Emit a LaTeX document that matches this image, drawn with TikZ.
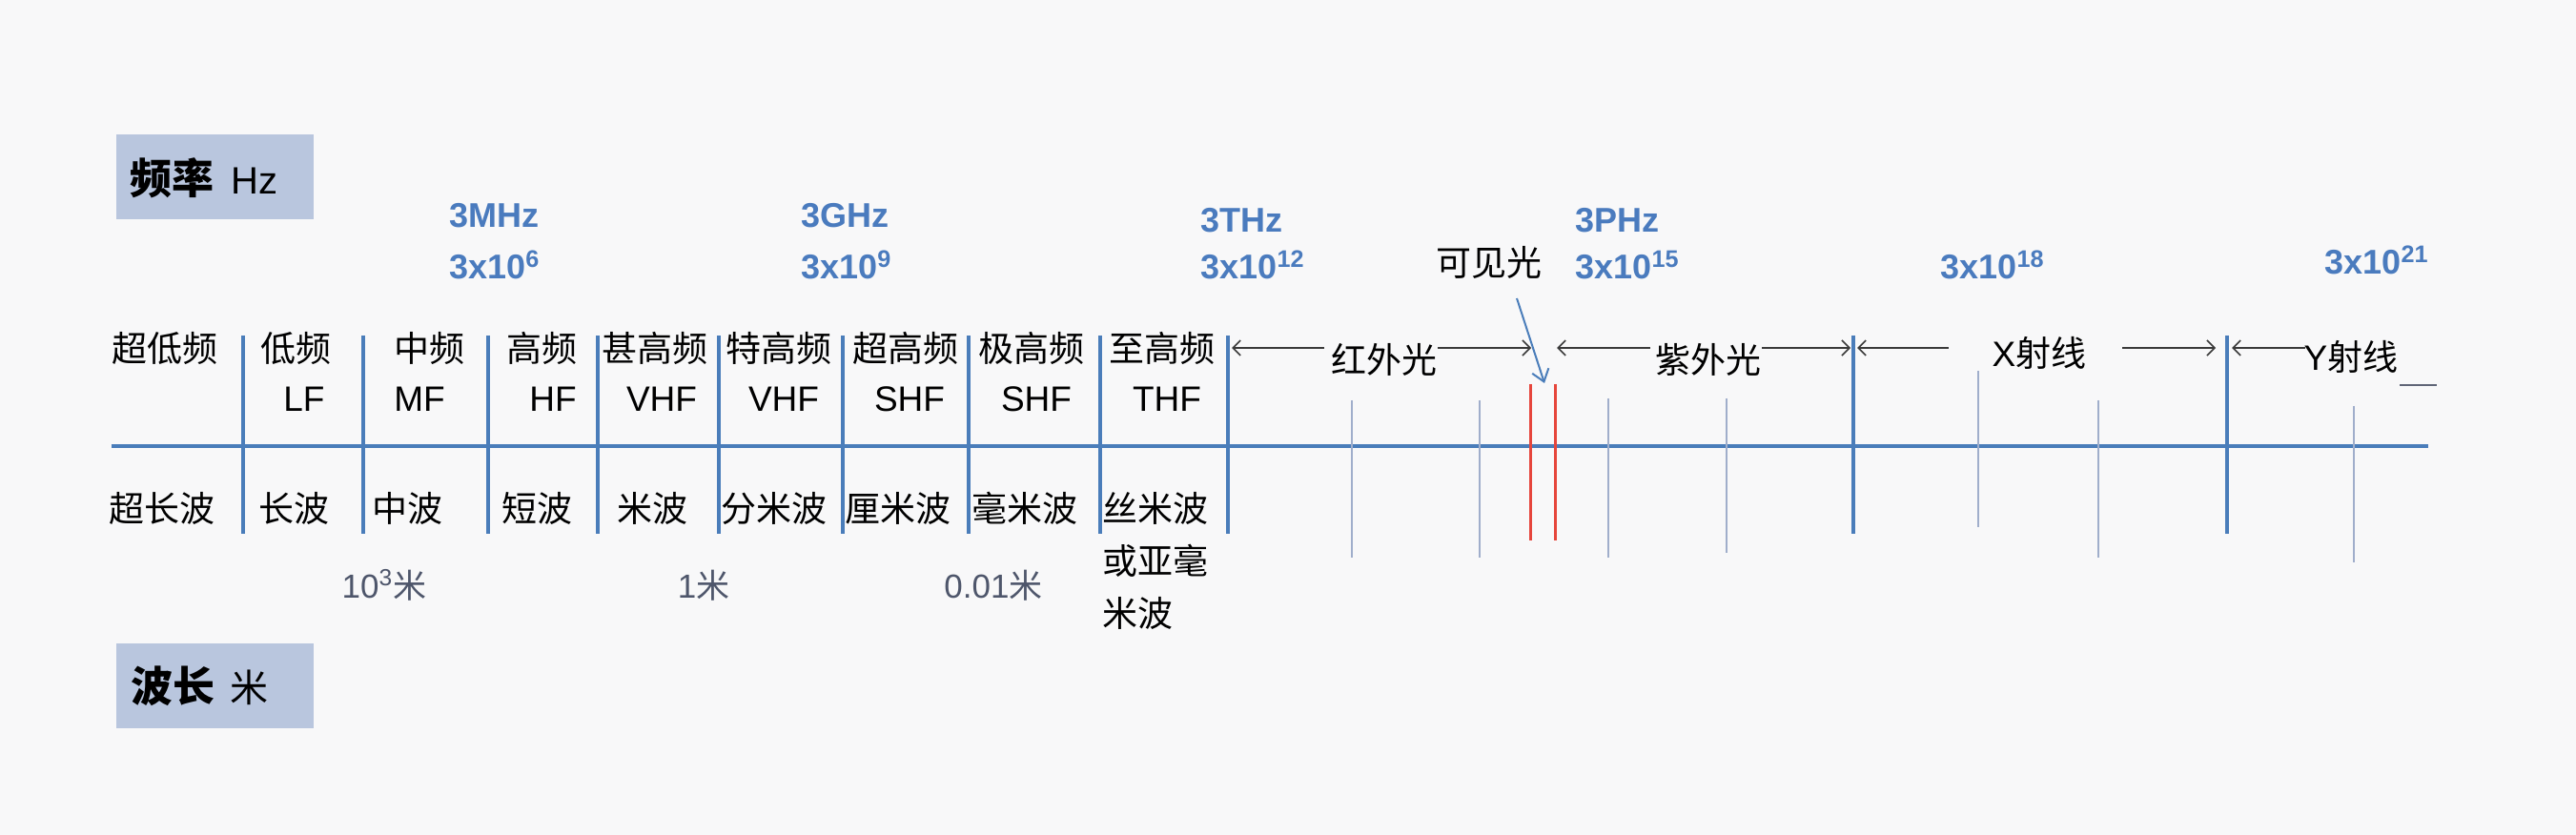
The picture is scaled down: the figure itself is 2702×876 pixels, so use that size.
\documentclass[tikz,border=0pt]{standalone}
\usepackage{fontspec}
\setmainfont{Liberation Sans}
\newfontfamily\cjk{Noto Sans CJK SC}
\usetikzlibrary{arrows.meta}
\definecolor{bg}{HTML}{F8F8F9}
\definecolor{axisblue}{HTML}{4A7DBA}
\definecolor{freqblue}{HTML}{4A7BBE}
\definecolor{wavegray}{HTML}{4E566B}
\definecolor{tickgray}{HTML}{A0AECB}
\definecolor{boxfill}{HTML}{B9C6DE}
\definecolor{vislred}{HTML}{E6463C}
\definecolor{dimgray}{HTML}{3A3A3A}
\definecolor{ygray}{HTML}{5F6577}
\begin{document}
\begin{tikzpicture}[x=0.5pt,y=-0.5pt,
  cn/.style={font=\cjk\fontsize{18.5pt}{22pt}\selectfont, inner sep=0pt},
  ab/.style={font=\fontsize{18.5pt}{22pt}\selectfont, inner sep=0pt},
  fq/.style={font=\bfseries\fontsize{18pt}{22pt}\selectfont, text=freqblue, inner sep=0pt, anchor=west},
  wl/.style={font=\fontsize{17.5pt}{22pt}\selectfont, text=wavegray, inner sep=0pt},
  divider/.style={draw=axisblue, line width=2pt},
  thintick/.style={draw=tickgray, line width=1pt},
  redline/.style={draw=vislred, line width=1.5pt},
  dimline/.style={draw=dimgray, line width=0.8pt, -{Straight Barb[length=4pt,width=8pt]}},
  headbox/.style={fill=boxfill, inner sep=0pt, minimum width=103.5pt, minimum height=44.5pt, anchor=north west},
]
\fill[bg] (0,0) rectangle (2702,876);
\useasboundingbox (0,0) rectangle (2702,876);

% header boxes
\node[headbox] (fbox) at (122,141) {};
\node[inner sep=0pt, anchor=west] (ftxt) at (136,187) {{\cjk\bfseries\fontsize{22pt}{26pt}\selectfont 频率}\hspace{9pt}{\fontsize{20pt}{24pt}\selectfont Hz}};
\node[headbox] (wbox) at (122,675) {};
\node[inner sep=0pt, anchor=west] (wtxt) at (137,720) {{\cjk\bfseries\fontsize{22pt}{26pt}\selectfont 波长}\hspace{8pt}{\cjk\fontsize{20pt}{24pt}\selectfont 米}};

% main axis
\draw[axisblue, line width=2pt] (117,468) -- (2547,468);
\foreach \x in {255,381,512,627,754,884,1016,1154,1288,1944,2336}
  \draw[divider] (\x,352) -- (\x,560);
\foreach \x/\a/\b in {1418/420/585,1552/420/585,1687/418/585,1811/418/580,2075/389/553,2201/420/585,2469/426/590}
  \draw[thintick] (\x,\a) -- (\x,\b);
\draw[redline] (1605,403) -- (1605,567);
\draw[redline] (1631,403) -- (1631,567);

% row 1
\node[cn] (h1) at (173,365) {超低频};
\node[cn] (h2) at (310,365) {低频};
\node[cn] (h3) at (450,365) {中频};
\node[cn] (h4) at (568,365) {高频};
\node[cn] (h5) at (687,365) {甚高频};
\node[cn] (h6) at (817,365) {特高频};
\node[cn] (h7) at (950,365) {超高频};
\node[cn] (h8) at (1082,365) {极高频};
\node[cn] (h9) at (1219,365) {至高频};
% row 2
\node[ab] (a2) at (319,419) {LF};
\node[ab] (a3) at (440,419) {MF};
\node[ab] (a4) at (580,419) {HF};
\node[ab] (a5) at (694,419) {VHF};
\node[ab] (a6) at (822,419) {VHF};
\node[ab] (a7) at (954,419) {SHF};
\node[ab] (a8) at (1087,419) {SHF};
\node[ab] (a9) at (1224,419) {THF};
% row 3
\node[cn] (w1) at (170,533) {超长波};
\node[cn] (w2) at (308,533) {长波};
\node[cn] (w3) at (427,533) {中波};
\node[cn] (w4) at (563,533) {短波};
\node[cn] (w5) at (684,533) {米波};
\node[cn] (w6) at (812,533) {分米波};
\node[cn] (w7) at (942,533) {厘米波};
\node[cn] (w8) at (1075,533) {毫米波};
\node[cn] (w9) at (1212,533) {丝米波};
\node[cn] (w10) at (1212,588) {或亚毫};
\node[cn, anchor=west] (w11) at (1156,643) {米波};

% wavelength values
\node[wl] (v1) at (403,614) {10\textsuperscript{3}{\cjk 米}};
\node[wl] (v2) at (738,614) {1{\cjk 米}};
\node[wl] (v3) at (1042,614) {0.01{\cjk 米}};

% frequency values
\node[fq] (f1a) at (471,226) {3MHz};
\node[fq] (f1b) at (471,278) {3x10\textsuperscript{6}};
\node[fq] (f2a) at (840,226) {3GHz};
\node[fq] (f2b) at (840,278) {3x10\textsuperscript{9}};
\node[fq] (f3a) at (1259,231) {3THz};
\node[fq] (f3b) at (1259,278) {3x10\textsuperscript{12}};
\node[fq] (f4a) at (1652,231) {3PHz};
\node[fq] (f4b) at (1652,278) {3x10\textsuperscript{15}};
\node[fq] (f5b) at (2035,278) {3x10\textsuperscript{18}};
\node[fq] (f6b) at (2438,273) {3x10\textsuperscript{21}};

% visible light
\node[cn] (vis) at (1562,275) {可见光};
\coordinate (visS) at (1591,313);
\coordinate (visE) at (1620,402);
\draw[axisblue, line width=1pt, -{Straight Barb[length=6pt,width=9pt]}] (visS) -- (visE);

% range labels and dimension lines
\node[cn] (ir) at (1452,377) {红外光};
\node[cn] (uv) at (1792,377) {紫外光};
\node[ab] (xr) at (2139,370) {X{\cjk 射线}};
\node[ab] (yr) at (2466,374) {Y{\cjk 射线}};

\coordinate (irL) at (1292,365); \coordinate (irA) at (1389,365);
\coordinate (irB) at (1508,365); \coordinate (irR) at (1606,365);
\coordinate (uvL) at (1633,365); \coordinate (uvA) at (1731,365);
\coordinate (uvB) at (1848,365); \coordinate (uvR) at (1941,365);
\coordinate (xrL) at (1948,365); \coordinate (xrA) at (2044,365);
\coordinate (xrB) at (2226,365); \coordinate (xrR) at (2324,365);
\coordinate (yrL) at (2341,365); \coordinate (yrA) at (2418,365);
\coordinate (yrB) at (2517,404); \coordinate (yrC) at (2556,404);

\draw[dimline] (irA) -- (irL);
\draw[dimline] (irB) -- (irR);
\draw[dimline] (uvA) -- (uvL);
\draw[dimline] (uvB) -- (uvR);
\draw[dimline] (xrA) -- (xrL);
\draw[dimline] (xrB) -- (xrR);
\draw[dimline] (yrA) -- (yrL);
\draw[draw=ygray, line width=1pt] (yrB) -- (yrC);
\end{tikzpicture}
\end{document}
